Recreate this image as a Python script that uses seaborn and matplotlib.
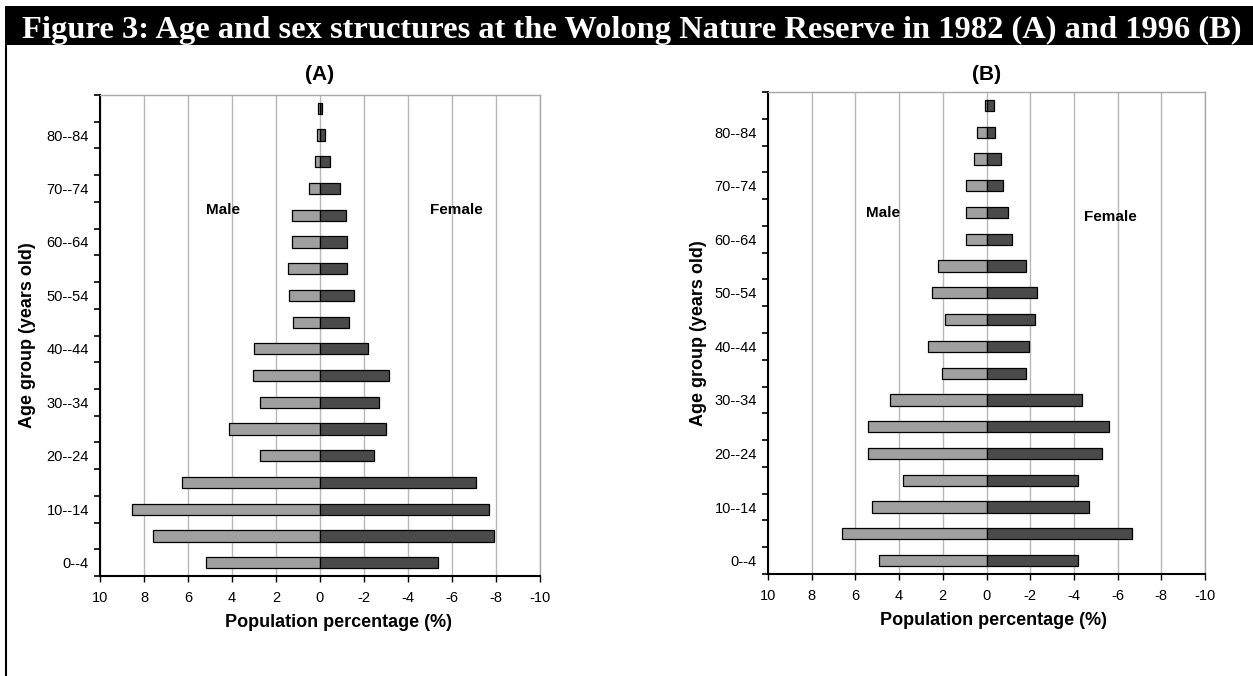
import matplotlib
matplotlib.use("Agg")
import matplotlib.pyplot as plt
from matplotlib.patches import Rectangle
from matplotlib.lines import Line2D
import seaborn as sns
import pandas as pd
import numpy as np

# ---- data (top to bottom: oldest to youngest) ----
ages = ['85+', '80--84', '75--79', '70--74', '65--69', '60--64', '55--59', '50--54',
        '45--49', '40--44', '35--39', '30--34', '25--29', '20--24', '15--19',
        '10--14', '5--9', '0--4']
labeled_ages = ['80--84', '70--74', '60--64', '50--54', '40--44', '30--34',
                '20--24', '10--14', '0--4']

male_1982 = [0.08, 0.12, 0.21, 0.48, 1.29, 1.29, 1.47, 1.41, 1.24, 2.98, 3.06, 2.71,
             4.15, 2.74, 6.26, 8.53, 7.58, 5.18]
female_1982 = [0.10, 0.23, 0.47, 0.89, 1.17, 1.23, 1.23, 1.55, 1.32, 2.17, 3.14, 2.67,
               2.98, 2.47, 7.09, 7.67, 7.91, 5.35]
male_1996 = [0.09, 0.43, 0.57, 0.92, 0.96, 0.92, 2.20, 2.48, 1.88, 2.68, 2.02, 4.42,
             5.41, 5.41, 3.84, 5.23, 6.62, 4.91]
female_1996 = [0.34, 0.38, 0.67, 0.76, 0.98, 1.15, 1.82, 2.29, 2.23, 1.96, 1.82, 4.37,
               5.61, 5.29, 4.17, 4.69, 6.67, 4.17]

x_ticks = [10, 8, 6, 4, 2, 0, -2, -4, -6, -8, -10]

title = "Figure 3: Age and sex structures at the Wolong Nature Reserve in 1982 (A) and 1996 (B)"
panel_titles = ["(A)", "(B)"]

sns.set_style("white")
plt.rcParams['font.family'] = ['Liberation Sans', 'DejaVu Sans']
plt.rcParams['axes.unicode_minus'] = False
for k in ['text.color', 'axes.labelcolor', 'xtick.color', 'ytick.color']:
    plt.rcParams[k] = 'black'

W, H = 1253, 676
fig = plt.figure(figsize=(W / 100, H / 100), dpi=100)
fig.patch.set_facecolor('white')

# title bar
fig.add_artist(Rectangle((5 / W, 1 - 45 / H), 1 - 5 / W, 39 / H,
                         transform=fig.transFigure, color='black', lw=0))
fig.text(22 / W, 1 - 38 / H, title, color='white', fontsize=23.4, fontweight='bold',
         family='Liberation Serif', ha='left', va='baseline')
fig.add_artist(Line2D([6 / W, 6 / W], [0, 1 - 45 / H], transform=fig.transFigure,
                      color='black', lw=1.5))

# axes positions in pixels: (left, top, right, bottom)
boxes = [(100, 95, 540, 576), (768, 92, 1205, 574)]
datasets = [(male_1982, female_1982), (male_1996, female_1996)]
text_pos = [((4.4, 3.8), (-6.2, 3.8)), ((4.73, 4.02), (-5.66, 4.17))]
ylabel_x = [-0.145, -0.140]
xlabel_x = [0.543, 0.517]

male_color = '#a0a0a0'
female_color = '#4a4a4a'

for i, ((l, t, r, b), (male, female)) in enumerate(zip(boxes, datasets)):
    ax = fig.add_axes([l / W, 1 - b / H, (r - l) / W, (b - t) / H])
    df = pd.DataFrame({
        'age': ages * 2,
        'value': list(male) + [-v for v in female],
        'sex': ['Male'] * len(ages) + ['Female'] * len(ages),
    })
    sns.barplot(data=df, x='value', y='age', hue='sex', order=ages,
                hue_order=['Male', 'Female'],
                palette={'Male': male_color, 'Female': female_color},
                dodge=False, width=0.42, edgecolor='black', linewidth=0.9,
                saturation=1, orient='h', legend=False, ax=ax)
    ax.set_xlim(10, -10)
    ax.set_ylim(len(ages) - 0.5, -0.5)
    ax.set_xticks(x_ticks)
    ax.set_xticklabels([str(v) for v in x_ticks], fontsize=10.5)
    ypos = [ages.index(a) for a in labeled_ages]
    ax.set_yticks(ypos)
    ax.set_yticklabels(labeled_ages, fontsize=10.5)
    ax.set_yticks(np.arange(-0.5, len(ages), 1.0), minor=True)
    ax.tick_params(axis='y', which='major', length=0, pad=8)
    ax.tick_params(axis='y', which='minor', length=4, width=1.2, color='black',
                   direction='out', left=True)
    ax.tick_params(axis='x', which='major', length=4, width=1, color='black',
                   direction='out', bottom=True, pad=7)
    ax.grid(axis='x', color='#b8b8b8', lw=1)
    ax.grid(axis='y', visible=False)
    ax.set_axisbelow(True)
    for side in ['left', 'bottom']:
        ax.spines[side].set_color('black')
        ax.spines[side].set_linewidth(1.5)
    for side in ['top', 'right']:
        ax.spines[side].set_color('#a8a8a8')
        ax.spines[side].set_linewidth(1)
    ax.set_xlabel('Population percentage (%)', fontsize=13, fontweight='bold')
    ax.xaxis.set_label_coords(xlabel_x[i], -0.078)
    ax.set_ylabel('Age group (years old)', fontsize=13, fontweight='bold')
    ax.yaxis.set_label_coords(ylabel_x[i], 0.5)
    (mx, my), (fx, fy) = text_pos[i]
    ax.text(mx, my, 'Male', fontsize=11, fontweight='bold', ha='center', va='center')
    ax.text(fx, fy, 'Female', fontsize=11, fontweight='bold', ha='center', va='center')
    cx = (l + r) / 2
    fig.text(cx / W, 1 - 74 / H, panel_titles[i], fontsize=15, fontweight='bold',
             ha='center', va='center')

fig.savefig('out.png', dpi=100)
